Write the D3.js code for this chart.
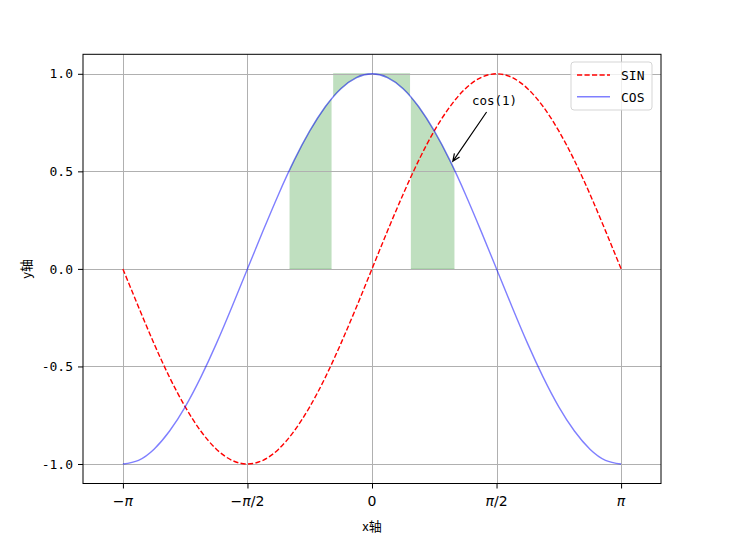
<!DOCTYPE html>
<html><head><meta charset="utf-8">
<script src="https://cdn.jsdelivr.net/npm/d3@7/dist/d3.min.js"></script>
<style>body{margin:0;background:#fff}svg{display:block}</style>
</head><body>
<script>
// x samples (radians, steps of pi/16)
const xSamples = [-3.142,-2.945,-2.749,-2.553,-2.356,-2.160,-1.963,-1.767,-1.571,-1.374,-1.178,-0.982,-0.785,-0.589,-0.393,-0.196,0,
  0.196,0.393,0.589,0.785,0.982,1.178,1.374,1.571,1.767,1.963,2.160,2.356,2.553,2.749,2.945,3.142];
const sinValues = [0,-0.195,-0.383,-0.556,-0.707,-0.831,-0.924,-0.981,-1,-0.981,-0.924,-0.831,-0.707,-0.556,-0.383,-0.195,0,
  0.195,0.383,0.556,0.707,0.831,0.924,0.981,1,0.981,0.924,0.831,0.707,0.556,0.383,0.195,0];
const cosValues = [-1,-0.981,-0.924,-0.831,-0.707,-0.556,-0.383,-0.195,0,0.195,0.383,0.556,0.707,0.831,0.924,0.981,1,
  0.981,0.924,0.831,0.707,0.556,0.383,0.195,0,-0.195,-0.383,-0.556,-0.707,-0.831,-0.924,-0.981,-1];
const seriesNames = ["SIN", "COS"];
const xTickValues = [-Math.PI, -Math.PI/2, 0, Math.PI/2, Math.PI];
const xTickLabels = ["−π", "−π/2", "0", "π/2", "π"];
const yTickValues = [-1.0, -0.5, 0.0, 0.5, 1.0];
const yTickLabels = ["-1.0", "-0.5", "0.0", "0.5", "1.0"];
const xDomain = [-3.645, 3.645];
const yDomain = [-1.1, 1.1];
// green fills: under cos (0..cos) and above cos (cos..1)
const fillUnderRanges = [[-1.04, -0.51], [0.49, 1.04]];
const fillAboveRanges = [[-0.49, 0.48]];
const annotationText = "cos(1)";
const annotationPoint = [1, 0.540];
const annotationTextPos = [1.26, 0.84];
const xLabel = "x轴", yLabel = "y轴";

const W = 730, H = 541;
const L = 83, R = 661, T = 54.3, B = 483.5;
const svg = d3.select("body").append("svg").attr("width", W).attr("height", H);
const x = d3.scaleLinear().domain(xDomain).range([L, R]);
const y = d3.scaleLinear().domain(yDomain).range([B, T]);
const pts = xSamples.map((v, i) => ({x: v, s: sinValues[i], c: cosValues[i]}));
const mono = "'DejaVu Sans Mono', 'Noto Sans CJK SC', monospace";

// clip paths for fills
const defs = svg.append("defs");
const allFills = [];
fillUnderRanges.forEach(r => allFills.push({r, type: "under"}));
fillAboveRanges.forEach(r => allFills.push({r, type: "above"}));
allFills.forEach((f, i) => {
  defs.append("clipPath").attr("id", "fc" + i).append("rect")
    .attr("x", x(f.r[0])).attr("width", x(f.r[1]) - x(f.r[0]))
    .attr("y", T).attr("height", B - T);
});
const areaUnder = d3.area().x(d => x(d.x)).y0(y(0)).y1(d => y(d.c)).curve(d3.curveNatural);
const areaAbove = d3.area().x(d => x(d.x)).y0(y(1)).y1(d => y(d.c)).curve(d3.curveNatural);
allFills.forEach((f, i) => {
  svg.append("path").attr("d", (f.type === "under" ? areaUnder : areaAbove)(pts))
    .attr("clip-path", "url(#fc" + i + ")")
    .attr("fill", "green").attr("fill-opacity", 0.25)
    .attr("stroke", "green").attr("stroke-opacity", 0.15).attr("stroke-width", 1.5);
});

// grid
const grid = svg.append("g").attr("stroke", "#b0b0b0").attr("stroke-width", 1);
grid.selectAll(".gx").data(xTickValues).join("line")
  .attr("x1", d => Math.round(x(d)) + 0.5).attr("x2", d => Math.round(x(d)) + 0.5).attr("y1", T).attr("y2", B);
grid.selectAll(".gy").data(yTickValues).join("line")
  .attr("y1", d => Math.round(y(d)) + 0.5).attr("y2", d => Math.round(y(d)) + 0.5).attr("x1", L).attr("x2", R);

// lines
const plot = svg.append("g");
plot.append("path").datum(pts)
  .attr("d", d3.line().x(d => x(d.x)).y(d => y(d.s)).curve(d3.curveNatural))
  .attr("fill", "none").attr("stroke", "red").attr("stroke-width", 1.4).attr("stroke-dasharray", "5.2,2.3");
plot.append("path").datum(pts)
  .attr("d", d3.line().x(d => x(d.x)).y(d => y(d.c)).curve(d3.curveNatural))
  .attr("fill", "none").attr("stroke", "blue").attr("stroke-opacity", 0.5).attr("stroke-width", 1.4);

// axes
const xAxis = svg.append("g").attr("transform", `translate(0,${B})`)
  .call(d3.axisBottom(x).tickValues(xTickValues).tickSize(5).tickPadding(5).tickFormat(""));
const yAxis = svg.append("g").attr("transform", `translate(${L},0)`)
  .call(d3.axisLeft(y).tickValues(yTickValues).tickSize(5).tickPadding(5).tickFormat((d, i) => yTickLabels[i]));
[xAxis, yAxis].forEach(a => { a.select(".domain").remove(); a.selectAll("line").attr("stroke", "#000").attr("stroke-width", 1); });
yAxis.selectAll("text").attr("font-family", mono).attr("font-size", 13).attr("fill", "#000");

// x tick labels with italic pi
xTickValues.forEach((v, i) => {
  const t = svg.append("text").attr("x", x(v)).attr("y", B + 22).attr("text-anchor", "middle")
    .attr("font-family", "'DejaVu Sans', sans-serif").attr("font-size", 14).attr("fill", "#000");
  const parts = xTickLabels[i].split("π");
  parts.forEach((p, j) => {
    if (p) t.append("tspan").text(p);
    if (j < parts.length - 1) t.append("tspan").attr("font-style", "italic").text("π");
  });
});

// spines
svg.append("rect").attr("x", L).attr("y", T).attr("width", R - L).attr("height", B - T)
  .attr("fill", "none").attr("stroke", "#000").attr("stroke-width", 1);

// axis labels
svg.append("text").attr("x", (L + R) / 2).attr("y", 531).attr("text-anchor", "middle")
  .attr("font-family", "'Noto Sans CJK SC', sans-serif").attr("font-size", 13).text(xLabel);
svg.append("text").attr("transform", `translate(31,${(T + B) / 2}) rotate(-90)`).attr("text-anchor", "middle")
  .attr("font-family", "'Noto Sans CJK SC', sans-serif").attr("font-size", 13).text(yLabel);

// annotation
const tx = x(annotationTextPos[0]), ty = y(annotationTextPos[1]);
const at = svg.append("text").attr("x", tx).attr("y", ty).attr("font-family", mono).attr("font-size", 12.5)
  .attr("fill", "#000").text(annotationText);
const bb = at.node().getBBox();
const cx = bb.x + bb.width / 2, cy = bb.y + bb.height / 2;
const px = x(annotationPoint[0]), py = y(annotationPoint[1]);
const dx = px - cx, dy = py - cy, len = Math.hypot(dx, dy);
const ux = dx / len, uy = dy / len;
const startT = (bb.y + bb.height + 4 - cy) / uy;
const sx = cx + ux * startT, sy = cy + uy * startT;
const ex = px - ux * 2.7, ey = py - uy * 2.7;
const ang = Math.atan2(uy, ux), hl = 8, ha = 0.4;
svg.append("path")
  .attr("d", `M${sx},${sy}L${ex},${ey}M${ex - hl * Math.cos(ang - ha)},${ey - hl * Math.sin(ang - ha)}L${ex},${ey}L${ex - hl * Math.cos(ang + ha)},${ey - hl * Math.sin(ang + ha)}`)
  .attr("fill", "none").attr("stroke", "#000").attr("stroke-width", 1.2);

// legend
const lg = svg.append("g");
lg.append("rect").attr("x", 571).attr("y", 62).attr("width", 81).attr("height", 48).attr("rx", 3)
  .attr("fill", "#fff").attr("fill-opacity", 0.8).attr("stroke", "#d5d5d5").attr("stroke-width", 1);
const legStyles = [
  {color: "red", op: 1, dash: "5.2,2.3"},
  {color: "blue", op: 0.5, dash: null}
];
seriesNames.forEach((n, i) => {
  const yy = 75 + i * 21.7;
  lg.append("line").attr("x1", 577).attr("x2", 610).attr("y1", yy).attr("y2", yy)
    .attr("stroke", legStyles[i].color).attr("stroke-opacity", legStyles[i].op).attr("stroke-width", 1.4)
    .attr("stroke-dasharray", legStyles[i].dash);
  lg.append("text").attr("x", 621).attr("y", yy + 5).attr("font-family", mono).attr("font-size", 13)
    .attr("fill", "#000").text(n);
});
</script>
</body></html>
